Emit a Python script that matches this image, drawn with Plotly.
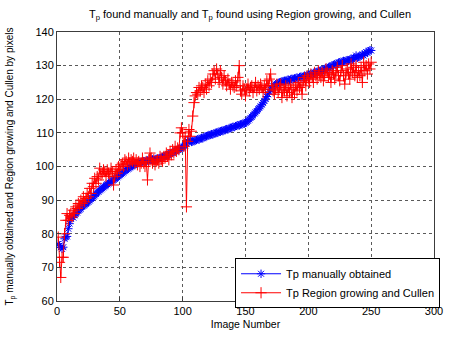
import plotly.graph_objects as go

image_number = list(range(1, 251))

tp_manual = [
    77.0, 76.5, 76.0, 75.5, 76.0, 78.5, 79.0, 79.2, 81.5, 83.0,
    84.5, 85.0, 84.8, 85.5, 86.0, 86.3, 86.8, 87.2, 87.5, 88.0,
    88.3, 88.6, 88.9, 89.2, 89.5, 89.9, 90.3, 90.6, 91.0, 91.4,
    91.8, 92.2, 92.5, 92.9, 93.2, 93.5, 93.8, 94.1, 94.4, 94.7,
    95.0, 95.2, 95.5, 95.8, 96.0, 96.3, 96.5, 96.8, 97.1, 97.4,
    97.7, 98.0, 98.3, 98.6, 98.9, 99.2, 99.4, 99.7, 100.0, 100.2,
    100.4, 100.6, 100.8, 101.0, 101.1, 101.2, 101.3, 101.5, 101.6, 101.5,
    101.7, 101.8, 101.6, 101.9, 102.0, 102.1, 101.9, 102.2, 102.3, 102.2,
    102.4, 102.5, 102.6, 102.8, 103.0, 103.1, 103.3, 103.4, 103.6, 103.8,
    104.0, 104.1, 104.3, 104.5, 104.7, 104.9, 105.1, 105.3, 105.5, 105.7,
    106.0, 106.3, 106.8, 107.5, 108.0, 107.6, 107.3, 107.4, 107.6, 107.8,
    107.9, 108.1, 108.0, 108.3, 108.5, 108.4, 108.7, 108.9, 109.0, 109.2,
    109.3, 109.4, 109.6, 109.5, 109.8, 110.0, 110.1, 110.0, 110.3, 110.5,
    110.6, 110.5, 110.8, 111.0, 111.1, 111.0, 111.3, 111.5, 111.6, 111.8,
    111.7, 112.0, 112.1, 112.3, 112.2, 112.5, 112.6, 112.8, 112.7, 113.0,
    113.3, 113.6, 114.0, 114.4, 114.8, 115.2, 115.7, 116.1, 116.5, 117.0,
    117.4, 117.9, 118.4, 118.9, 119.5, 120.1, 120.8, 121.5, 122.2, 122.9,
    123.4, 123.8, 124.1, 124.4, 124.6, 124.8, 125.0, 125.1, 125.3, 125.4,
    125.5, 125.4, 125.7, 125.8, 125.6, 126.0, 126.1, 125.9, 126.2, 126.3,
    126.4, 126.2, 126.6, 126.7, 126.5, 126.8, 127.0, 126.8, 127.1, 127.2,
    127.3, 127.5, 127.4, 127.8, 128.0, 127.8, 128.2, 128.4, 128.3, 128.6,
    128.8, 128.6, 129.0, 129.2, 129.1, 129.5, 129.7, 129.6, 130.0, 130.2,
    130.4, 130.2, 130.6, 130.9, 131.0, 130.8, 131.2, 131.4, 131.2, 131.5,
    131.6, 131.4, 131.8, 132.0, 131.8, 132.2, 132.4, 133.0, 132.3, 132.6,
    132.8, 133.0, 133.3, 133.0, 133.6, 134.0, 133.8, 134.3, 134.6, 134.5,
]

tp_region_cullen = [
    79.0, 71.5, 67.0, 73.0, 73.0, 80.0, 84.0, 86.0, 84.0, 85.5,
    86.0, 85.0, 87.0, 86.0, 88.0, 87.5, 89.0, 88.5, 90.0, 89.0,
    91.0, 89.5, 90.5, 92.0, 91.0, 93.5, 92.0, 95.0, 94.0, 96.5,
    95.0, 97.0, 96.0, 99.5, 97.5, 98.0, 99.0, 98.5, 97.0, 99.0,
    98.0, 97.5, 99.5, 98.5, 94.5, 97.0, 99.0, 98.0, 100.0, 99.0,
    100.5, 101.0, 100.0, 102.0, 101.5, 100.5, 102.5, 101.0, 102.0, 101.5,
    102.5, 101.0, 102.0, 100.5, 101.5, 100.0, 101.0, 102.5, 101.0, 100.0,
    101.5, 96.0, 102.0, 104.0, 102.5, 101.0, 102.0, 100.5, 101.5, 102.0,
    101.0, 103.0, 102.0, 101.5, 103.0, 102.5, 104.0, 103.0, 102.0, 104.5,
    103.5, 105.0, 104.0, 106.0, 104.5, 105.5, 105.0, 110.0, 111.5, 110.0,
    106.0, 109.0, 88.0, 107.5, 111.0, 109.0, 110.5, 115.0, 119.0, 121.0,
    122.0, 121.5, 123.5, 122.5, 124.0, 123.5, 122.0, 124.5, 123.0, 125.5,
    124.0, 126.0, 125.0, 127.5, 128.5, 126.0, 129.0, 127.5, 125.0, 128.5,
    126.5, 124.5, 127.0, 125.5, 124.0, 126.0, 124.5, 123.0, 125.0, 124.0,
    123.5, 125.5, 124.0, 126.5, 130.0, 122.5, 121.5, 124.0, 123.0, 121.0,
    123.0, 124.5, 122.5, 123.5, 124.0, 122.0, 123.5, 125.0, 122.5, 124.0,
    123.0, 124.5, 123.5, 122.0, 124.0, 123.0, 125.5, 124.0, 126.0, 127.5,
    124.0, 122.5, 121.5, 123.0, 124.5, 122.0, 123.5, 124.5, 120.5, 123.0,
    122.5, 124.0, 121.0, 123.5, 122.0, 124.5, 120.5, 123.0, 121.5, 124.0,
    122.5, 125.0, 123.5, 124.5, 121.5, 125.5, 126.5, 124.0, 127.0, 126.0,
    125.0, 127.5, 126.5, 125.0, 128.0, 127.0, 126.0, 128.5, 127.5, 126.5,
    128.0, 125.5, 127.0, 129.0, 128.0, 126.5, 127.5, 125.0, 128.5, 127.5,
    126.0, 128.0, 129.5, 127.0, 125.5, 128.5, 130.0, 127.0, 124.5, 128.0,
    129.0, 127.5, 126.0, 130.5, 128.0, 129.5, 127.0, 130.0, 126.5, 128.5,
    127.0, 129.5, 125.0, 131.0, 128.5, 130.0, 127.5, 130.5, 129.0, 131.0,
]

x_ticks = [0, 50, 100, 150, 200, 250, 300]
y_ticks = [60, 70, 80, 90, 100, 110, 120, 130, 140]

FONT = "Liberation Sans, Arial, sans-serif"

fig = go.Figure()
fig.add_trace(go.Scatter(
    x=image_number, y=tp_manual, mode="lines+markers",
    name="Tp manually obtained",
    line=dict(color="rgb(0,0,255)", width=1),
    marker=dict(symbol="asterisk-open", size=7, color="rgb(0,0,255)",
                line=dict(width=1, color="rgb(0,0,255)")),
))
fig.add_trace(go.Scatter(
    x=image_number, y=tp_region_cullen, mode="lines+markers",
    name="Tp Region growing and Cullen",
    line=dict(color="rgb(255,0,0)", width=1),
    marker=dict(symbol="cross-thin-open", size=8, color="rgb(255,0,0)",
                line=dict(width=1, color="rgb(255,0,0)")),
))

axis_common = dict(
    showgrid=True, gridcolor="rgb(90,90,90)", griddash="dot", gridwidth=1,
    showline=True, linecolor="rgb(60,60,60)", linewidth=1, mirror=True,
    ticks="inside", ticklen=4, tickcolor="rgb(60,60,60)",
    zeroline=False,
    tickfont=dict(family=FONT, size=11, color="black"),
)

fig.update_layout(
    width=452, height=338,
    margin=dict(l=57, r=9, t=32, b=29),
    paper_bgcolor="white", plot_bgcolor="white",
    font=dict(family=FONT, size=11, color="black"),
    title=dict(
        text="T<sub>p</sub> found manually and T<sub>p</sub> found using Region growing, and Cullen",
        x=0.553, xanchor="center", y=0.97, yanchor="top",
        font=dict(family=FONT, size=11, color="black"),
    ),
    xaxis=dict(range=[0, 300], tickvals=x_ticks,
               title=dict(text="Image Number", standoff=4,
                          font=dict(family=FONT, size=10.5)),
               **axis_common),
    yaxis=dict(range=[60, 140], tickvals=y_ticks, **axis_common),
    legend=dict(
        x=1.016, xanchor="right", y=-0.027, yanchor="bottom",
        bgcolor="white", bordercolor="black", borderwidth=1,
        font=dict(family=FONT, size=11, color="black"),
        tracegroupgap=0, itemwidth=40,
    ),
    annotations=[dict(
        text="T<sub>p</sub> manually obtained and Region growing and Cullen by pixels",
        xref="paper", yref="paper", x=0, y=0.5, xanchor="center", yanchor="middle",
        xshift=-47, textangle=-90, showarrow=False,
        font=dict(family=FONT, size=10, color="black"),
    )],
)

fig.write_html("out.html")
